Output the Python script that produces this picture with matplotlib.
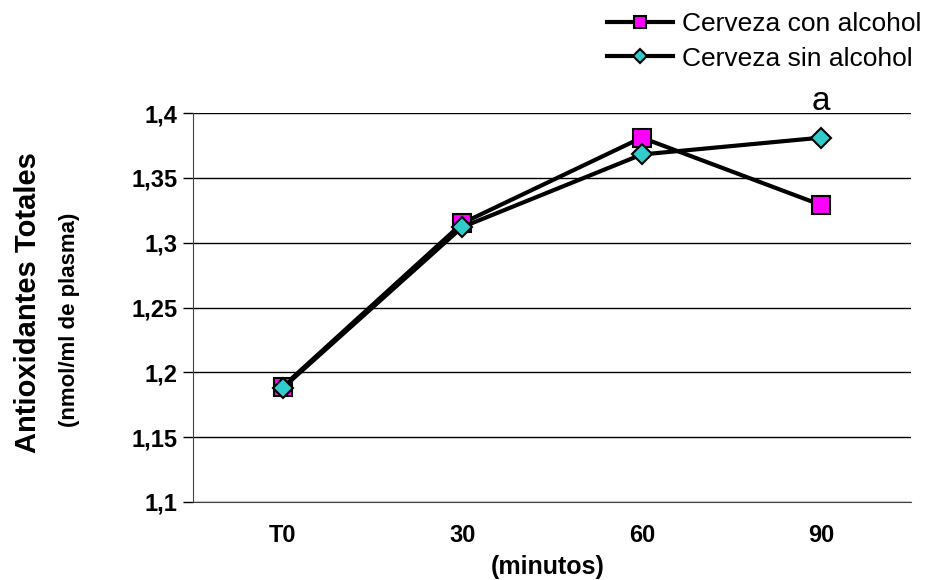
import matplotlib.pyplot as plt
import numpy as np

plt.rcParams['font.family'] = ['Liberation Sans', 'DejaVu Sans']

categorias = ["T0", "30", "60", "90"]
con_alcohol = [1.189, 1.315, 1.381, 1.329]
sin_alcohol = [1.188, 1.312, 1.368, 1.381]
yticks = [1.1, 1.15, 1.2, 1.25, 1.3, 1.35, 1.4]
ytick_labels = ["1,1", "1,15", "1,2", "1,25", "1,3", "1,35", "1,4"]

fig = plt.figure(figsize=(9.31, 5.8), dpi=100)
ax = fig.add_axes([193 / 931, 1 - 502 / 580, 718 / 931, 389 / 580])

x = np.arange(len(categorias))
ax.plot(x, con_alcohol, color="black", lw=3, marker="s", ms=13,
        mfc="#ff00ff", mec="black", mew=1.5, label="Cerveza con alcohol", zorder=3)
ax.plot(x, sin_alcohol, color="black", lw=3, marker="D", ms=10.5,
        mfc="#33cccc", mec="black", mew=1.5, label="Cerveza sin alcohol", zorder=4)

ax.set_xlim(-0.5, 3.5)
ax.set_ylim(1.1, 1.4)
ax.set_xticks(x)
ax.set_xticklabels(categorias, fontsize=17, fontweight="bold")
ax.set_yticks(yticks)
ax.set_yticklabels(ytick_labels, fontsize=17, fontweight="bold")
ax.tick_params(axis="x", length=0, pad=16)
ax.tick_params(axis="y", direction="out", length=7, width=1, pad=4)
ax.yaxis.grid(True, color="black", lw=1)
ax.set_axisbelow(True)
for s in ["top", "right"]:
    ax.spines[s].set_visible(False)
ax.spines["left"].set_color("#444444")
ax.spines["bottom"].set_color("#444444")

ax.text(3, 1.402, "a", fontsize=24, ha="center", va="baseline")

fig.text(548 / 931, 1 - 567 / 580, "(minutos)", fontsize=18, fontweight="bold",
         ha="center", va="center")
fig.text(28 / 931, 1 - 303 / 580, "Antioxidantes Totales", fontsize=21,
         fontweight="bold", rotation=90, ha="center", va="center")
fig.text(69 / 931, 1 - 320 / 580, "(nmol/ml de plasma)", fontsize=16,
         fontweight="bold", rotation=90, ha="center", va="center")

fig.legend(loc="upper left", bbox_to_anchor=(607 / 931, 1 - 12 / 580), frameon=False,
           fontsize=19, handlelength=2.5, handletextpad=0.35, labelspacing=0.4,
           borderpad=0, borderaxespad=0, markerscale=0.7)

fig.savefig("out.png", dpi=100)
